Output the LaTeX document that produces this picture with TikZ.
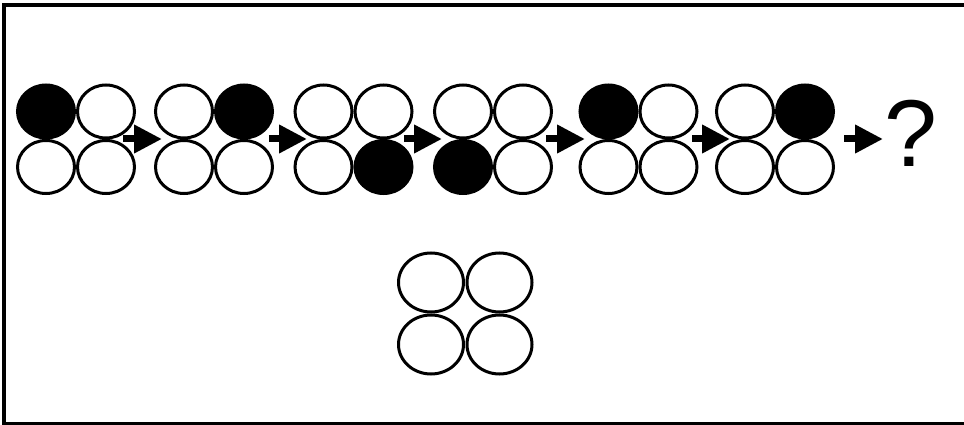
\documentclass[tikz,border=0pt]{standalone}
\usepackage{fontspec}
\setmainfont{Liberation Sans}
\usetikzlibrary{shapes.geometric,arrows.meta}
\tikzset{
  dot/.style={ellipse, draw=black, line width=3pt, inner sep=0pt, minimum width=57pt, minimum height=53pt, fill=white},
  blk/.style={dot, fill=black},
  bigdot/.style={ellipse, draw=black, line width=3pt, inner sep=0pt, minimum width=65pt, minimum height=59pt, fill=white},
  seqarrow/.style={line width=7pt, -{Triangle[length=28pt,width=27pt]}},
}
\begin{document}
\begin{tikzpicture}[x=1pt,y=-1pt]
\fill[white] (0,0) rectangle (964,425);
\useasboundingbox (0,0) rectangle (964,425);
\draw[line width=4pt] (964,5.3) -- (4,5.3) -- (4,423.5) -- (964,423.5);
% group 1 (black TL)
\node[blk] (g1a) at (46,111.5) {};
\node[dot] (g1b) at (106,111.5) {};
\node[dot] (g1c) at (46,167) {};
\node[dot] (g1d) at (106,167) {};
% group 2 (black TR)
\node[dot] (g2a) at (184,111.5) {};
\node[blk] (g2b) at (244,111.5) {};
\node[dot] (g2c) at (184,167) {};
\node[dot] (g2d) at (244,167) {};
% group 3 (black BR)
\node[dot] (g3a) at (323.5,111.5) {};
\node[dot] (g3b) at (383.5,111.5) {};
\node[dot] (g3c) at (323.5,167) {};
\node[blk] (g3d) at (383.5,167) {};
% group 4 (black BL)
\node[dot] (g4a) at (463,111.5) {};
\node[dot] (g4b) at (523,111.5) {};
\node[blk] (g4c) at (463,167) {};
\node[dot] (g4d) at (523,167) {};
% group 5 (black TL)
\node[blk] (g5a) at (608.5,111.5) {};
\node[dot] (g5b) at (668.5,111.5) {};
\node[dot] (g5c) at (608.5,167) {};
\node[dot] (g5d) at (668.5,167) {};
% group 6 (black TR)
\node[dot] (g6a) at (745,111.5) {};
\node[blk] (g6b) at (805,111.5) {};
\node[dot] (g6c) at (745,167) {};
\node[dot] (g6d) at (805,167) {};
% question mark
\node[anchor=base, inner sep=0pt, font=\fontsize{95}{95}\selectfont] (q) at (910.5,167) {?};
% arrows
\coordinate (a1s) at (123,139); \coordinate (a1e) at (162,139);
\coordinate (a2s) at (269,139); \coordinate (a2e) at (307,139);
\coordinate (a3s) at (404,139); \coordinate (a3e) at (442,139);
\coordinate (a4s) at (546,139); \coordinate (a4e) at (585,139);
\coordinate (a5s) at (692,139); \coordinate (a5e) at (730,139);
\coordinate (a6s) at (844,139); \coordinate (a6e) at (883,139);
\draw[seqarrow] (a1s) -- (a1e);
\draw[seqarrow] (a2s) -- (a2e);
\draw[seqarrow] (a3s) -- (a3e);
\draw[seqarrow] (a4s) -- (a4e);
\draw[seqarrow] (a5s) -- (a5e);
\draw[seqarrow] (a6s) -- (a6e);
% answer grid
\node[bigdot] (h1) at (431,282.5) {};
\node[bigdot] (h2) at (499.5,282.5) {};
\node[bigdot] (h3) at (431,344.5) {};
\node[bigdot] (h4) at (499.5,344.5) {};
\end{tikzpicture}
\end{document}
